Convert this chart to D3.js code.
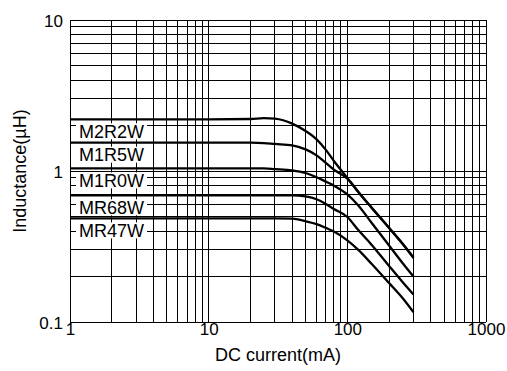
<!DOCTYPE html>
<html>
<head>
<meta charset="utf-8">
<script src="https://cdn.jsdelivr.net/npm/d3@7"></script>
<style>
  html, body { margin: 0; padding: 0; background: #fff; }
  svg { display: block; font-family: "Liberation Sans", Arial, Helvetica, sans-serif; }
</style>
</head>
<body>
<svg id="chart" width="507" height="371"></svg>
<script>
// ---- data ----
const currents = [1, 10, 20, 25, 30, 40, 50, 60, 70, 80, 100, 120, 150, 200, 250, 300];
const seriesNames = ["M2R2W", "M1R5W", "M1R0W", "MR68W", "MR47W"];
const M2R2W = [2.20, 2.20, 2.21, 2.24, 2.22, 2.06, 1.84, 1.62, 1.38, 1.165, 0.90, 0.726, 0.569, 0.419, 0.329, 0.265];
const M1R5W = [1.54, 1.54, 1.54, 1.53, 1.51, 1.48, 1.39, 1.27, 1.13, 1.02, 0.89, 0.726, 0.571, 0.421, 0.331, 0.268];
const M1R0W = [1.04, 1.04, 1.04, 1.04, 1.03, 1.01, 0.97, 0.91, 0.85, 0.80, 0.70, 0.591, 0.453, 0.321, 0.246, 0.200];
const MR68W = [0.69, 0.69, 0.69, 0.69, 0.69, 0.69, 0.678, 0.65, 0.605, 0.56, 0.496, 0.406, 0.324, 0.235, 0.184, 0.152];
const MR47W = [0.485, 0.485, 0.485, 0.485, 0.485, 0.484, 0.465, 0.445, 0.42, 0.397, 0.347, 0.30, 0.242, 0.181, 0.144, 0.116];
const seriesValues = [M2R2W, M1R5W, M1R0W, MR68W, MR47W];
const xTickLabels = ["1", "10", "100", "1000"];
const yTickLabels = ["0.1", "1", "10"];
const xTitle = "DC current(mA)";
const yTitle = "Inductance(\u00B5H)";

// ---- layout ----
const svg = d3.select("#chart");
const L = 70, R = 486, T = 20, B = 322;
const x = d3.scaleLog().domain([1, 1000]).range([L, R]);
const y = d3.scaleLog().domain([0.1, 10]).range([B, T]);

// grid lines
const xGrid = [];
for (let k = 0; k < 3; k++) for (let m = 1; m <= 9; m++) xGrid.push(m * Math.pow(10, k));
xGrid.push(1000);
const yGrid = [];
for (let k = -1; k < 1; k++) for (let m = 1; m <= 9; m++) yGrid.push(+(m * Math.pow(10, k)).toFixed(3));
yGrid.push(10);

const grid = svg.append("g").attr("stroke", "#000").attr("stroke-width", 1).attr("shape-rendering", "crispEdges");
grid.selectAll("line.v").data(xGrid).join("line").attr("class", "v")
  .attr("x1", d => x(d)).attr("x2", d => x(d)).attr("y1", T).attr("y2", B);
grid.selectAll("line.h").data(yGrid).join("line").attr("class", "h")
  .attr("x1", L).attr("x2", R).attr("y1", d => y(d)).attr("y2", d => y(d));

// axes labels (no tick marks)
const xAxis = d3.axisBottom(x).tickValues(xTickLabels.map(Number)).tickFormat((d, i) => xTickLabels[i]).tickSize(0).tickPadding(4);
const gx = svg.append("g").attr("transform", `translate(0,${B})`).call(xAxis);
gx.select(".domain").remove();
gx.selectAll("text").attr("font-size", 17).attr("font-family", "Liberation Sans, Arial, sans-serif").attr("fill", "#000").attr("dy", "0.72em").attr("y", 1);

const yAxis = d3.axisLeft(y).tickValues(yTickLabels.map(Number)).tickFormat((d, i) => yTickLabels[i]).tickSize(0).tickPadding(7);
const gy = svg.append("g").attr("transform", `translate(${L},0)`).call(yAxis);
gy.select(".domain").remove();
gy.selectAll("text").attr("font-size", 17).attr("font-family", "Liberation Sans, Arial, sans-serif").attr("fill", "#000").attr("dy", "0.36em");

// titles
svg.append("text").attr("x", (L + R) / 2).attr("y", 361).attr("text-anchor", "middle")
  .attr("font-size", 18).text(xTitle);
svg.append("text").attr("transform", `translate(26,${(T + B) / 2}) rotate(-90)`).attr("text-anchor", "middle")
  .attr("font-size", 18).text(yTitle);

// series labels with white boxes
const labels = svg.append("g");
seriesNames.forEach((name, i) => {
  const cy = y(seriesValues[i][0]) + 12;
  labels.append("rect").attr("x", 76).attr("y", cy - 8).attr("width", 71).attr("height", 16).attr("fill", "#fff");
  labels.append("text").attr("x", 111.5).attr("y", cy).attr("dy", "0.36em").attr("text-anchor", "middle")
    .attr("font-size", 18).text(name);
});

// curves
const line = d3.line().x(d => x(d[0])).y(d => y(d[1])).curve(d3.curveMonotoneX);
svg.append("g").selectAll("path").data(seriesValues).join("path")
  .attr("d", vals => line(currents.map((c, j) => [c, vals[j]])))
  .attr("fill", "none").attr("stroke", "#000").attr("stroke-width", 2.3).attr("stroke-linejoin", "round");
</script>
</body>
</html>
